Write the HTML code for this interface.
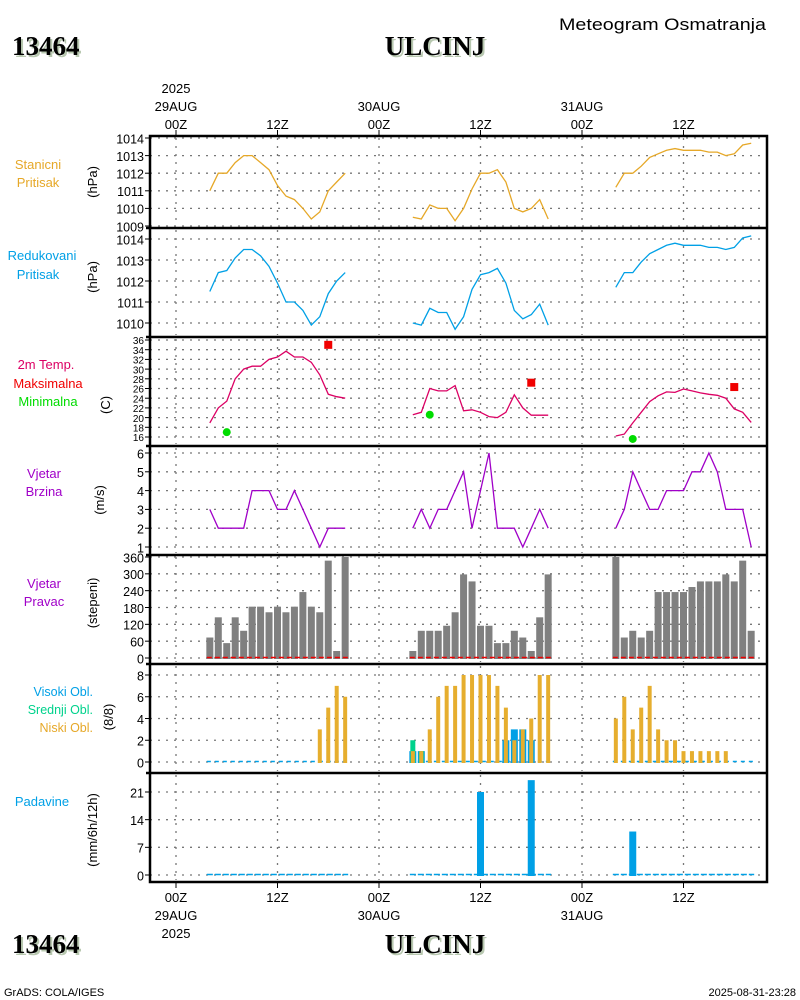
<!DOCTYPE html>
<html><head><meta charset="utf-8">
<style>
html,body{margin:0;padding:0;background:#fff;}
svg{display:block;font-family:"Liberation Sans",sans-serif;}
.t{font-size:13px;}
</style></head>
<body>
<svg id="chart" width="800" height="1000" viewBox="0 0 800 1000" xmlns="http://www.w3.org/2000/svg">
<rect x="0" y="0" width="800" height="1000" fill="#fff"/>
<g>
 <text x="559" y="30" font-size="17" textLength="207" lengthAdjust="spacingAndGlyphs">Meteogram Osmatranja</text>
 <text x="14" y="57" font-family="Liberation Serif,serif" font-weight="bold" font-size="27" fill="#b8c8b0">13464</text>
 <text x="12" y="55" font-family="Liberation Serif,serif" font-weight="bold" font-size="27">13464</text>
 <text x="437" y="57" text-anchor="middle" font-family="Liberation Serif,serif" font-weight="bold" font-size="27" fill="#b8c8b0">ULCINJ</text>
 <text x="435" y="55" text-anchor="middle" font-family="Liberation Serif,serif" font-weight="bold" font-size="27">ULCINJ</text>
 <text x="14" y="955" font-family="Liberation Serif,serif" font-weight="bold" font-size="27" fill="#b8c8b0">13464</text>
 <text x="12" y="953" font-family="Liberation Serif,serif" font-weight="bold" font-size="27">13464</text>
 <text x="437" y="955" text-anchor="middle" font-family="Liberation Serif,serif" font-weight="bold" font-size="27" fill="#b8c8b0">ULCINJ</text>
 <text x="435" y="953" text-anchor="middle" font-family="Liberation Serif,serif" font-weight="bold" font-size="27">ULCINJ</text>
 <text x="4" y="996" font-size="11">GrADS: COLA/IGES</text>
 <text x="796" y="996" font-size="11" text-anchor="end">2025-08-31-23:28</text>
</g>
<g class="t" text-anchor="middle">
 <text x="38" y="169" fill="#e6a828">Stanicni</text><text x="38" y="187" fill="#e6a828">Pritisak</text>
 <text x="42" y="260" fill="#00a0e6">Redukovani</text><text x="38" y="279" fill="#00a0e6">Pritisak</text>
 <text x="46" y="369" fill="#dc0064">2m Temp.</text><text x="48" y="388" fill="#f00000">Maksimalna</text><text x="48" y="406" fill="#00dc00">Minimalna</text>
 <text x="44" y="478" fill="#a000c8">Vjetar</text><text x="44" y="496" fill="#a000c8">Brzina</text>
 <text x="44" y="588" fill="#a000c8">Vjetar</text><text x="44" y="606" fill="#a000c8">Pravac</text>
 <text x="93" y="696" text-anchor="end" font-size="12.5" fill="#00a0e6">Visoki Obl.</text>
 <text x="93" y="714" text-anchor="end" font-size="12.5" fill="#00d28c">Srednji Obl.</text>
 <text x="93" y="732" text-anchor="end" font-size="12.5" fill="#e6a828">Niski Obl.</text>
 <text x="42" y="806" fill="#00a0e6">Padavine</text>
</g>
<g id="grid"></g>
<g id="marks"></g>
<g id="axes"></g>
</svg>
<script>
const hours = [4,5,6,7,8,9,10,11,12,13,14,15,16,17,18,19,20,
 28,29,30,31,32,33,34,35,36,37,38,39,40,41,42,43,44,
 52,53,54,55,56,57,58,59,60,61,62,63,64,65,66,67,68];
const stationP = [1011,1012,1012,1012.6,1013,1013,1012.6,1012.2,1011.3,1010.7,1010.5,1010,1009.4,1009.8,1011,1011.5,1012,
 1009.5,1009.4,1010.2,1010,1010,1009.3,1010,1011.1,1012,1012,1012.2,1011.5,1010,1009.8,1010,1010.5,1009.4,
 1011.2,1012,1012,1012.4,1012.9,1013.1,1013.3,1013.4,1013.3,1013.3,1013.3,1013.2,1013.2,1013.0,1013.1,1013.6,1013.7];
const reducedP = [1011.5,1012.4,1012.5,1013.1,1013.5,1013.5,1013.2,1012.7,1011.9,1011,1011,1010.6,1009.9,1010.3,1011.4,1012,1012.4,
 1010,1009.9,1010.7,1010.5,1010.5,1009.7,1010.3,1011.6,1012.3,1012.4,1012.6,1011.9,1010.6,1010.2,1010.4,1010.9,1009.9,
 1011.7,1012.4,1012.4,1012.9,1013.3,1013.5,1013.7,1013.8,1013.7,1013.7,1013.7,1013.6,1013.6,1013.5,1013.6,1014.05,1014.15];
const temp = [18.9,22,23.4,28,30,30.6,30.6,32,32.5,33.7,32.5,32.5,31.4,28.8,24.8,24.3,24,
 20.6,21.1,26,25.5,25.5,26.6,21.4,21.6,21.1,20.2,20,21.1,24.7,22,20.5,20.5,20.5,
 16.2,16.6,18.9,21.1,23.3,24.5,25.3,25.2,25.9,25.5,25.1,24.8,24.6,24,21.8,21.1,19];
const tmaxHours = [18,42,66];
const tmaxVals = [35,27.2,26.3];
const tminHours = [6,30,54];
const tminVals = [17,20.6,15.6];
const windSpeed = [3,2,2,2,2,4,4,4,3,3,4,3,2,1,2,2,2,
 2,3,2,3,3,4,5,2,4,6,2,2,2,1,2,3,2,
 2,3,5,4,3,3,4,4,4,5,5,6,5,3,3,3,1];
const windDir = [73,145,53,145,97,183,183,163,183,163,183,235,183,163,347,25,360,
 25,97,97,97,115,163,298,273,115,115,53,53,97,73,25,145,298,
 360,73,97,73,97,235,235,235,235,253,273,273,273,298,273,347,97];
const cloudHigh = [0,0,0,0,0,0,0,0,0,0,0,0,0,0,0,0,0,
 1,1,0,0,0,0,0,0,0,0,0,2,3,3,2,0,0,
 0,0,0,0,0,0,0,0,0,0,0,0,0,0,0,0,0];
const cloudMid = [0,0,0,0,0,0,0,0,0,0,0,0,0,0,0,0,0,
 2,1,0,0,0,0,0,0,0,0,0,0,0,0,0,0,0,
 0,0,0,0,0,0,0,0,0,0,0,0,0,0,0,0,0];
const cloudLow = [0,0,0,0,0,0,0,0,0,0,0,0,0,3,5,7,6,
 1,1,3,6,7,7,8,8,8,8,7,5,2,3,4,8,8,
 4,6,3,5,7,3,2,2,1,1,1,1,1,1,0,0,0];
const precip = [0,0,0,0,0,0,0,0,0,0,0,0,0,0,0,0,0,
 0,0,0,0,0,0,0,0,21,0,0,0,0,0,24,0,0,
 0,0,11,0,0,0,0,0,0,0,0,0,0,0,0,0,0];
const timeTicks = [0,12,24,36,48,60];
const timeLabels = ["00Z","12Z","00Z","12Z","00Z","12Z"];
const dateLabels = ["29AUG","","30AUG","","31AUG",""];
const p1Ticks=[1009,1010,1011,1012,1013,1014];
const p2Ticks=[1010,1011,1012,1013,1014];
const p3Ticks=[16,18,20,22,24,26,28,30,32,34,36];
const p4Ticks=[1,2,3,4,5,6];
const p5Ticks=[0,60,120,180,240,300,360];
const p6Ticks=[0,2,4,6,8];
const p7Ticks=[0,7,14,21];

const NS="http://www.w3.org/2000/svg";
const X0=150,X1=767;
function xs(h){return 176+h*101.5/12;}
function lin(v0,y0,v1,y1){return v=>y0+(v-v0)*(y1-y0)/(v1-v0);}
const panels=[
 {name:"station-pressure",top:136,bot:228,ticks:p1Ticks,y:lin(1009,226,1014,138),unit:"(hPa)",uy:182,ux:97,fs:12.5},
 {name:"reduced-pressure",top:228,bot:337,ticks:p2Ticks,y:lin(1010,323,1014,239),unit:"(hPa)",uy:277,ux:97,fs:12.5},
 {name:"temperature",top:337,bot:446,ticks:p3Ticks,y:lin(16,437,36,340),unit:"(C)",uy:405,ux:110,fs:10},
 {name:"wind-speed",top:446,bot:555,ticks:p4Ticks,y:lin(1,547,6,453),unit:"(m/s)",uy:500,ux:104,fs:12.5},
 {name:"wind-direction",top:555,bot:664,ticks:p5Ticks,y:lin(0,658,360,557),unit:"(stepeni)",uy:603,ux:97,fs:12.5},
 {name:"cloud-cover",top:664,bot:773,ticks:p6Ticks,y:lin(0,762,8,675),unit:"(8/8)",uy:717,ux:113,fs:12.5},
 {name:"precipitation",top:773,bot:882,ticks:p7Ticks,y:lin(0,875,21,792),unit:"(mm/6h/12h)",uy:830,ux:97,fs:12.5}
];
function el(tag,attrs,parent,text){const e=document.createElementNS(NS,tag);for(const k in attrs)e.setAttribute(k,attrs[k]);if(text!==undefined)e.textContent=text;parent.appendChild(e);return e;}
const grid=document.getElementById("grid"),marks=document.getElementById("marks"),axes=document.getElementById("axes");

panels.forEach(p=>{
 p.ticks.forEach(t=>{
  const y=p.y(t);
  const g=el("line",{x1:X0,x2:X1,y1:y,y2:y,stroke:"#777","stroke-width":1.3,"stroke-dasharray":"2,6"},grid);
  
  
  el("line",{x1:X0-5,x2:X0,y1:y,y2:y,stroke:"#000","stroke-width":1},axes);
  const tl=el("text",{x:X0-6,y:y+p.fs*0.42,"text-anchor":"end","font-size":p.fs},axes,String(t));
  
  
 });
 timeTicks.forEach(h=>{
  const v=el("line",{x1:xs(h),x2:xs(h),y1:p.top+2,y2:p.bot-2,stroke:"#777","stroke-width":1.3,"stroke-dasharray":"2,6"},grid);
  
  
 });
 const u=el("text",{x:0,y:0,"text-anchor":"middle","font-size":13,transform:`translate(${p.ux},${p.uy}) rotate(-90)`},axes,p.unit);
 
 
});
const fr=el("rect",{x:X0,y:136,width:X1-X0,height:882-136,fill:"none",stroke:"#000","stroke-width":2.5},axes);


panels.slice(1).forEach(p=>{el("line",{x1:X0-4,x2:X1,y1:p.top,y2:p.top,stroke:"#000","stroke-width":2.5},axes);});
timeTicks.forEach((h,i)=>{
 const x=xs(h);
 el("line",{x1:x,x2:x,y1:130,y2:136,stroke:"#000"},axes);
 el("line",{x1:x,x2:x,y1:882,y2:888,stroke:"#000"},axes);
 const a=el("text",{x:x,y:129,"text-anchor":"middle","font-size":13},axes,timeLabels[i]);
 
 
 const b=el("text",{x:x,y:902,"text-anchor":"middle","font-size":13},axes,timeLabels[i]);
 
 
 if(dateLabels[i]){
  el("text",{x:x,y:111,"text-anchor":"middle","font-size":13},axes,dateLabels[i]);
  el("text",{x:x,y:920,"text-anchor":"middle","font-size":13},axes,dateLabels[i]);
 }
});
el("text",{x:xs(0),y:93,"text-anchor":"middle","font-size":13},axes,"2025");
el("text",{x:xs(0),y:938,"text-anchor":"middle","font-size":13},axes,"2025");

function segments(){const s=[];let cur=[0];for(let i=1;i<hours.length;i++){if(hours[i]-hours[i-1]>1){s.push(cur);cur=[];}cur.push(i);}s.push(cur);return s;}
const segs=segments();
function line(vals,p,color,name){
 segs.forEach(sg=>{
  const pts=sg.map(i=>xs(hours[i]).toFixed(1)+","+p.y(vals[i]).toFixed(1)).join(" ");
  const l=el("polyline",{points:pts,fill:"none",stroke:color,"stroke-width":1.3},marks);
  
  
 });
}
line(stationP,panels[0],"#e6a828","station-pressure-line");
line(reducedP,panels[1],"#00a0e6","reduced-pressure-line");
line(temp,panels[2],"#dc0064","temperature-line");
line(windSpeed,panels[3],"#a000c8","wind-speed-line");
tmaxHours.forEach((h,i)=>{
 const m=el("rect",{x:xs(h)-4,y:panels[2].y(tmaxVals[i])-4,width:8,height:8,fill:"#f00000"},marks);
 
 
});
tminHours.forEach((h,i)=>{
 const m=el("circle",{cx:xs(h),cy:panels[2].y(tminVals[i]),r:4,fill:"#00dc00"},marks);
 
 
});
function bars(vals,p,color,w,name){
 hours.forEach((h,i)=>{
  if(vals[i]<=0)return;
  const y0=p.y(0),y=p.y(vals[i]);
  const b=el("rect",{x:xs(h)-w/2,y:y,width:w,height:y0-y+1,fill:color},marks);
  
  
 });
}
function baseline(p,color,y,name,dash){
 segs.forEach(sg=>{
  const l=el("line",{x1:xs(hours[sg[0]])-3,x2:xs(hours[sg[sg.length-1]])+3,y1:y,y2:y,stroke:color,"stroke-width":1.5,"stroke-dasharray":dash},marks);
  
  
 });
}
bars(windDir,panels[4],"#808080",7,"wind-direction-bar");
baseline(panels[4],"#f00000",panels[4].y(0)-0.5,"wind-direction-zero-line","5,3");
baseline(panels[5],"#00a0e6",panels[5].y(0)-0.5,"cloud-baseline","4,4");
bars(cloudHigh,panels[5],"#00a0e6",7,"cloud-high-bar");
bars(cloudMid,panels[5],"#00d28c",5,"cloud-mid-bar");
bars(cloudLow,panels[5],"#e6ae2e",4,"cloud-low-bar");
baseline(panels[6],"#00a0e6",panels[6].y(0)-0.5,"precip-baseline","6,2");
bars(precip,panels[6],"#00a0e6",7,"precip-bar");
</script>
</body></html>
